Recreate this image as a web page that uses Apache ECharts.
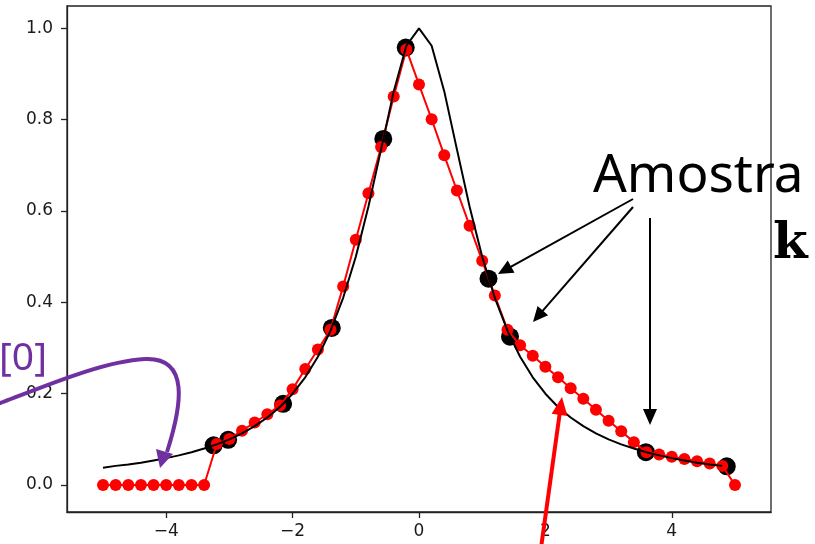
<!DOCTYPE html>
<html>
<head>
<meta charset="utf-8">
<script src="https://cdn.jsdelivr.net/npm/echarts@6/dist/echarts.min.js"></script>
<style>
html,body{margin:0;padding:0;background:#fff;}
#chart{width:815px;height:544px;}
</style>
</head>
<body>
<div id="chart"></div>
<script>
// Continuous function (black line)
const curveX = [-5.0,-4.8,-4.6,-4.4,-4.2,-4.0,-3.8,-3.6,-3.4,-3.2,-3.0,-2.8,-2.6,-2.4,-2.2,-2.0,-1.8,-1.6,-1.4,-1.2,-1.0,-0.8,-0.6,-0.4,-0.2,
                0.0,0.2,0.4,0.6,0.8,1.0,1.2,1.4,1.6,1.8,2.0,2.2,2.4,2.6,2.8,3.0,3.2,3.4,3.6,3.8,4.0,4.2,4.4,4.6,4.8];
const curveY = [0.038,0.042,0.045,0.049,0.054,0.059,0.065,0.072,0.080,0.089,0.100,0.113,0.129,0.148,0.171,0.200,0.236,0.281,0.338,0.410,0.500,0.610,0.735,0.862,0.962,
                1.000,0.962,0.862,0.735,0.610,0.500,0.410,0.338,0.281,0.236,0.200,0.171,0.148,0.129,0.113,0.100,0.089,0.080,0.072,0.065,0.059,0.054,0.049,0.045,0.042];
// Samples (big black dots)
const sampleX = [-3.25,-3.02,-2.15,-1.38,-0.565,-0.21,1.10,1.44,3.59,4.87];
const sampleY = [0.087,0.099,0.178,0.344,0.758,0.958,0.452,0.325,0.072,0.041];
// Reconstruction (red line with dots)
const reconX = [-5.0,-4.8,-4.6,-4.4,-4.2,-4.0,-3.8,-3.6,-3.4,-3.2,-3.0,-2.8,-2.6,-2.4,-2.2,-2.0,-1.8,-1.6,-1.4,-1.2,-1.0,-0.8,-0.6,-0.4,-0.2,
                0.0,0.2,0.4,0.6,0.8,1.0,1.2,1.4,1.6,1.8,2.0,2.2,2.4,2.6,2.8,3.0,3.2,3.4,3.6,3.8,4.0,4.2,4.4,4.6,4.8,5.0];
const reconY = [0,0,0,0,0,0,0,0,0,0.090,0.101,0.119,0.137,0.155,0.174,0.210,0.254,0.297,0.340,0.435,0.537,0.639,0.740,0.851,0.954,
                0.877,0.801,0.722,0.645,0.568,0.491,0.415,0.340,0.306,0.283,0.259,0.236,0.212,0.189,0.165,0.141,0.118,0.094,0.072,0.067,0.062,0.057,0.052,0.047,0.042,0.0];
// Tick labels
const xTicks = [-4,-2,0,2,4];
const yTicks = [0.0,0.2,0.4,0.6,0.8,1.0];

const zip = (a,b) => a.map((v,i)=>[v,b[i]]);

function arrow(x1,y1,x2,y2,color,width,hl,hw){
  const dx=x2-x1, dy=y2-y1, L=Math.hypot(dx,dy);
  const ux=dx/L, uy=dy/L, px=-uy, py=ux;
  const bx=x2-ux*hl, by=y2-uy*hl;
  return [
    {type:'line', z:100, shape:{x1:x1,y1:y1,x2:bx+ux*2,y2:by+uy*2}, style:{stroke:color,lineWidth:width}},
    {type:'polygon', z:101, shape:{points:[[x2,y2],[bx+px*hw,by+py*hw],[bx-px*hw,by-py*hw]]}, style:{fill:color}}
  ];
}

const chart = echarts.init(document.getElementById('chart'), null, {renderer:'canvas'});
const axisFont = {fontFamily:'DejaVu Sans', fontSize:17, color:'#1a1a1a'};

const graphics = [].concat(
  arrow(633,199,498,274,'#000',2,15,7),
  arrow(633,207,533,322,'#000',2,15,7),
  arrow(650,218,650,425,'#000',2,16,7),
  arrow(541,548,562,397,'#ff0000',4,18,8),
  [
    {type:'bezierCurve', z:100, shape:{x1:-2,y1:404,cpx1:50,cpy1:384,cpx2:105,cpy2:361,x2:145,y2:359},
     style:{stroke:'#7030A0',lineWidth:4,fill:null}},
    {type:'bezierCurve', z:100, shape:{x1:145,y1:359,cpx1:190,cpy1:357,cpx2:182,cpy2:405,x2:167,y2:452},
     style:{stroke:'#7030A0',lineWidth:4,fill:null}},
    {type:'polygon', z:101, shape:{points:[[160,468],[173,454],[156,449]]}, style:{fill:'#7030A0'}},
    {type:'text', z:102, x:593, y:150, style:{text:'Amostra', font:'normal 53px "Noto Sans"', fill:'#000', align:'left', verticalAlign:'top'}},
    {type:'text', z:102, x:773, y:220, style:{text:'k', font:'bold 50px "DejaVu Serif"', fill:'#000', align:'left', verticalAlign:'top'}},
    {type:'text', z:102, x:47, y:339, style:{text:'[0]', font:'normal 39px "Noto Sans"', fill:'#7030A0', align:'right', verticalAlign:'top'}}
  ]
);

chart.setOption({
  animation:false,
  backgroundColor:'#fff',
  grid:{left:67, right:44, top:6, bottom:32, show:true, borderColor:'#222', borderWidth:1.3, backgroundColor:'transparent'},
  xAxis:{
    type:'value', min:-5.57, max:5.57,
    axisLine:{show:true, onZero:false, lineStyle:{color:'#222', width:1.3}},
    axisTick:{show:true, inside:false, length:6, lineStyle:{color:'#222', width:1.3}, customValues:xTicks},
    axisLabel:Object.assign({margin:11, customValues:xTicks, formatter:v=> v<0 ? '\u2212'+Math.abs(v) : String(v)}, axisFont),
    splitLine:{show:false}
  },
  yAxis:{
    type:'value', min:-0.059, max:1.049,
    axisLine:{show:true, onZero:false, lineStyle:{color:'#222', width:1.3}},
    axisTick:{show:true, inside:false, length:6, lineStyle:{color:'#222', width:1.3}, customValues:yTicks},
    axisLabel:Object.assign({margin:14, customValues:yTicks, formatter:v=> Number(v).toFixed(1)}, axisFont),
    splitLine:{show:false}
  },
  series:[
    {type:'scatter', data:zip(sampleX,sampleY), symbol:'circle', symbolSize:18, itemStyle:{color:'#000', opacity:1}, z:2, silent:true},
    {type:'line', data:zip(reconX,reconY), symbol:'circle', symbolSize:12, showAllSymbol:true,
     itemStyle:{color:'#ff0000', borderWidth:0, opacity:1}, lineStyle:{color:'#ff0000', width:2}, z:3, silent:true},
    {type:'line', data:zip(curveX,curveY), symbol:'none', smooth:false, lineStyle:{color:'#000', width:2}, z:4, silent:true}
  ],
  graphic:graphics
});
</script>
</body>
</html>
